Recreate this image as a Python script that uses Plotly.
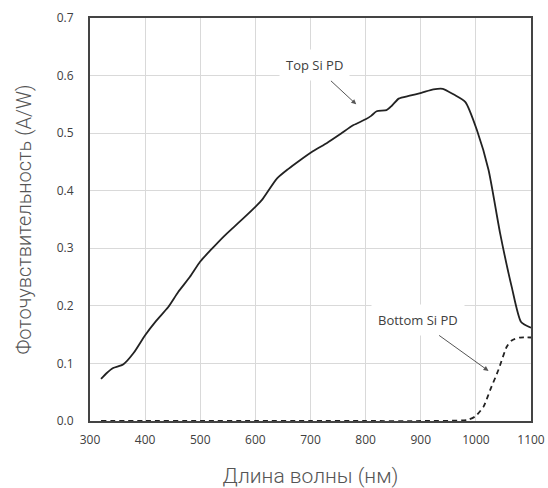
import plotly.graph_objects as go

# Top Si PD responsivity (A/W)
top_wl = [320, 330, 342, 360, 379, 400, 420, 442, 460, 481, 500, 520, 542, 560, 578, 600, 612,
          639, 660, 681, 705, 730, 755, 778, 800, 810, 820, 838, 848, 860, 880, 901, 923, 940,
          960, 981, 1002, 1023, 1044, 1065, 1082, 1100]
top_resp = [0.073, 0.083, 0.092, 0.098, 0.118, 0.149, 0.174, 0.198, 0.224, 0.250, 0.277, 0.298, 0.320,
            0.336, 0.352, 0.372, 0.384, 0.421, 0.438, 0.453, 0.469, 0.483, 0.499, 0.514, 0.524, 0.530,
            0.538, 0.540, 0.548, 0.560, 0.565, 0.570, 0.576, 0.577, 0.567, 0.554, 0.505, 0.436,
            0.326, 0.233, 0.172, 0.162]

# Bottom Si PD responsivity (A/W)
bot_wl = [320, 400, 500, 600, 700, 800, 900, 985, 999, 1014, 1026, 1041, 1056, 1065, 1080, 1100]
bot_resp = [0.0, 0.0, 0.0, 0.0, 0.0, 0.0, 0.0, 0.002, 0.008, 0.025, 0.054, 0.089, 0.129, 0.140, 0.145, 0.145]

x_ticks = [300, 400, 500, 600, 700, 800, 900, 1000, 1100]
y_ticks = [0.0, 0.1, 0.2, 0.3, 0.4, 0.5, 0.6, 0.7]

fig = go.Figure()
fig.add_trace(go.Scatter(x=top_wl, y=top_resp, mode="lines",
                         line=dict(color="#222222", width=1.8, shape="spline", smoothing=0.6),
                         showlegend=False))
fig.add_trace(go.Scatter(x=bot_wl, y=bot_resp, mode="lines",
                         line=dict(color="#222222", width=1.8, dash="5px,4px", shape="spline", smoothing=0.6),
                         showlegend=False))

ann_font = dict(family="Open Sans", size=13, color="#404040")
fig.add_annotation(x=783, y=0.550, ax=-42, ay=-39, text="Top Si PD", showarrow=True,
                   arrowhead=2, arrowsize=1, arrowwidth=1, arrowcolor="#555555",
                   bgcolor="white", font=ann_font, borderpad=6)
fig.add_annotation(x=1023, y=0.087, ax=-71, ay=-51, text="Bottom Si PD", showarrow=True,
                   arrowhead=2, arrowsize=1, arrowwidth=1, arrowcolor="#555555",
                   bgcolor="white", font=ann_font, borderpad=6)

tick_font = dict(family="Open Sans", size=12, color="#404040")
x_title_font = dict(family="Roboto", size=21, color="#555555", weight=300)
y_title_font = dict(family="Roboto", size=20, color="#555555", weight=300)

fig.update_xaxes(range=[300, 1100], tickvals=x_ticks, ticktext=[str(v) for v in x_ticks],
                 showgrid=True, gridcolor="#d9d9d9", gridwidth=1,
                 showline=True, linecolor="#444444", linewidth=2, mirror=True,
                 ticks="outside", ticklen=7, tickcolor="rgba(0,0,0,0)",
                 tickfont=tick_font, zeroline=False, automargin=False,
                 title=dict(text="Длина волны (нм)", font=x_title_font, standoff=22))
fig.update_yaxes(range=[0, 0.7], tickvals=y_ticks, ticktext=[f"{v:.1f}" for v in y_ticks],
                 showgrid=True, gridcolor="#d9d9d9", gridwidth=1,
                 showline=True, linecolor="#444444", linewidth=2, mirror=True,
                 ticks="outside", ticklen=12, tickcolor="rgba(0,0,0,0)",
                 tickfont=tick_font, zeroline=False, automargin=False,
                 title=dict(text="Фоточувствительность (A/W)", font=y_title_font, standoff=20))

fig.update_layout(width=548, height=488, paper_bgcolor="white", plot_bgcolor="white",
                  margin=dict(l=90, r=17, t=18, b=67), showlegend=False)

fig.write_html("out.html", config={"displayModeBar": False},
               post_script="document.body.style.margin='0';document.body.style.padding='0';"
                           "document.documentElement.style.overflow='hidden';")
